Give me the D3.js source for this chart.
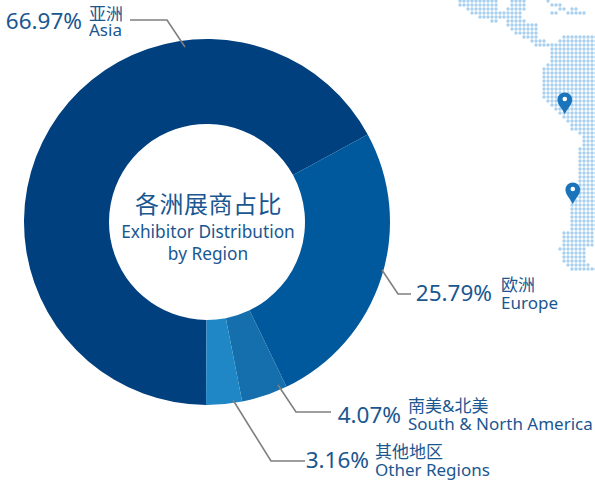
<!DOCTYPE html>
<html lang="en">
	<head>
		<meta charset="UTF-8"/>
		<title>Exhibitor Distribution by Region</title>
		<script type="text/javascript" src="https://cdn.jsdelivr.net/npm/d3@7"></script>
		<style>
			html, body { margin: 0; padding: 0; background: #fff; }
			svg { display: block; }
			text { font-family: "Noto Sans", "Noto Sans CJK SC", sans-serif; fill: #1a5791; }
		</style>
	</head>
	<body>
		<script type="text/javascript">
			var w = 595;
			var h = 483;

			// Chart data
			var regionsZh = ["亚洲", "欧洲", "南美&北美", "其他地区"];
			var regionsEn = ["Asia", "Europe", "South & North America", "Other Regions"];
			var shares = [66.97, 25.79, 4.07, 3.16];

			// Dot map: [first row, last row, first column, last column]
			var mapSpans = [
				[0, 1, 0, 9], [0, 1, 13, 16], [0, 0, 22, 22], [1, 1, 23, 25],
				[2, 2, 2, 9], [2, 2, 12, 16], [2, 2, 25, 26], [2, 2, 28, 29],
				[3, 3, 3, 15], [3, 3, 23, 24], [3, 3, 27, 31],
				[4, 4, 5, 15], [5, 5, 8, 9], [5, 5, 12, 16],
				[6, 6, 12, 19], [7, 7, 13, 19], [8, 8, 14, 19],
				[9, 9, 16, 19], [9, 9, 26, 34], [10, 10, 18, 21], [10, 10, 25, 34],
				[11, 11, 19, 34], [12, 15, 23, 34], [16, 16, 22, 34], [17, 24, 21, 34],
				[25, 25, 22, 34], [26, 26, 23, 34], [27, 27, 24, 34], [28, 28, 25, 34],
				[29, 29, 26, 34], [30, 30, 27, 34], [31, 32, 28, 34], [33, 33, 30, 34],
				[34, 36, 31, 34], [37, 49, 30, 34], [50, 57, 28, 34], [58, 61, 26, 33],
				[62, 62, 25, 31], [63, 65, 26, 31], [66, 66, 27, 32], [67, 67, 28, 34]
			];
			// Map pins: [column, row]
			var mapPins = [[26.2, 24.7], [28.2, 47.2]];

			var cx = 207;
			var cy = 222;
			var outerRadius = 183;
			var innerRadius = 98;

			var color = d3.scaleOrdinal()
				.domain(regionsEn)
				.range(["#00407f", "#00599c", "#146fac", "#1f87c6"]);

			var colX = d3.scaleLinear().domain([0, 34]).range([460, 596]);
			var rowY = d3.scaleLinear().domain([0, 67]).range([1, 269]);

			var svg = d3.select("body")
				.append("svg")
				.attr("width", w)
				.attr("height", h);

			// Dot map behind the chart
			var dots = [];
			mapSpans.forEach(function(s) {
				d3.range(s[0], s[1] + 1).forEach(function(r) {
					d3.range(s[2], s[3] + 1).forEach(function(c) {
						dots.push([c, r]);
					});
				});
			});

			svg.append("g")
				.selectAll("circle")
				.data(dots)
				.enter()
				.append("circle")
				.attr("cx", function(d) { return colX(d[0]); })
				.attr("cy", function(d) { return rowY(d[1]); })
				.attr("r", 1.7)
				.attr("fill", "#a9d1ef");

			var pins = svg.append("g")
				.selectAll("g")
				.data(mapPins)
				.enter()
				.append("g")
				.attr("transform", function(d) { return "translate(" + colX(d[0]) + "," + rowY(d[1]) + ")"; });

			pins.append("path")
				.attr("d", "M0,14.5 C-2,9.5 -7.4,5 -7.4,0 A7.4,7.4 0 1 1 7.4,0 C7.4,5 2,9.5 0,14.5 Z")
				.attr("fill", "#1a74bb");

			pins.append("circle")
				.attr("r", 2.3)
				.attr("cy", -0.8)
				.attr("fill", "#fff");

			// Donut, Asia starts at the bottom and runs clockwise
			var pie = d3.pie()
				.sort(null)
				.startAngle(180.3 * Math.PI / 180)
				.endAngle((180.3 + 360) * Math.PI / 180);

			var arc = d3.arc()
				.innerRadius(innerRadius)
				.outerRadius(outerRadius);

			var slices = pie(shares);

			svg.append("g")
				.attr("transform", "translate(" + cx + "," + cy + ")")
				.selectAll("path")
				.data(slices)
				.enter()
				.append("path")
				.attr("d", arc)
				.attr("fill", function(d, i) { return color(regionsEn[i]); });

			// Leader lines and labels, same order as the data
			var leaders = [
				[[130, 20], [167, 20], [185, 47]],
				[[411, 294], [398, 294], [382, 270]],
				[[331, 412], [296, 412], [278, 385]],
				[[305, 461], [271, 461], [233, 400]]
			];
			var labelPos = [
				{ pct: 82, pctY: 29, x: 89, zhY: 20, enY: 36 },
				{ pct: 492, pctY: 301, x: 501, zhY: 291, enY: 309 },
				{ pct: 401, pctY: 423, x: 408, zhY: 412, enY: 430 },
				{ pct: 369, pctY: 468, x: 375, zhY: 458, enY: 476 }
			];

			var line = d3.line();

			svg.append("g")
				.selectAll("path")
				.data(leaders)
				.enter()
				.append("path")
				.attr("d", line)
				.attr("fill", "none")
				.attr("stroke", "#7f7f7f")
				.attr("stroke-width", 1.6);

			var labels = svg.append("g")
				.selectAll("g")
				.data(labelPos)
				.enter()
				.append("g");

			labels.append("text")
				.text(function(d, i) { return shares[i].toFixed(2) + "%"; })
				.attr("x", function(d) { return d.pct; })
				.attr("y", function(d) { return d.pctY; })
				.attr("text-anchor", "end")
				.attr("font-size", "22.5px");

			labels.append("text")
				.text(function(d, i) { return regionsZh[i]; })
				.attr("x", function(d) { return d.x; })
				.attr("y", function(d) { return d.zhY; })
				.attr("font-size", "17px");

			labels.append("text")
				.text(function(d, i) { return regionsEn[i]; })
				.attr("x", function(d) { return d.x; })
				.attr("y", function(d) { return d.enY; })
				.attr("font-size", "17px");

			// Centre title
			var title = svg.append("g").attr("text-anchor", "middle");

			title.append("text")
				.text("各洲展商占比")
				.attr("x", 208.5)
				.attr("y", 213)
				.attr("letter-spacing", "0.5px")
				.attr("font-size", "24px");

			title.append("text")
				.text("Exhibitor Distribution")
				.attr("x", 208)
				.attr("y", 238)
				.attr("font-size", "17.3px");

			title.append("text")
				.text("by Region")
				.attr("x", 208)
				.attr("y", 260)
				.attr("font-size", "17.3px");
		</script>
	</body>
</html>
